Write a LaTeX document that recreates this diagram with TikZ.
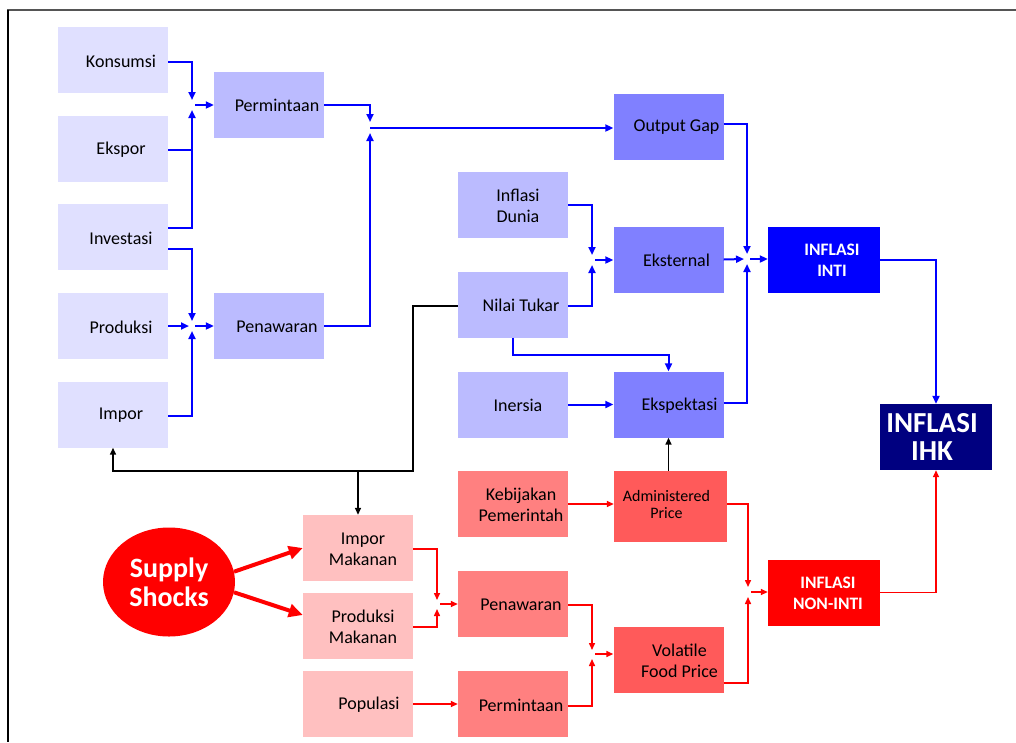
\documentclass[tikz,border=0pt]{standalone}
\usepackage{fontspec}
\setmainfont{Carlito}
\usetikzlibrary{arrows.meta,shapes.geometric,calc}
\definecolor{clav}{HTML}{E0E0FF}
\definecolor{clblue}{HTML}{BBBBFF}
\definecolor{cmblue}{HTML}{8080FF}
\definecolor{cinti}{HTML}{0000FF}
\definecolor{cihk}{HTML}{000080}
\definecolor{cpink}{HTML}{FFC0C0}
\definecolor{csalmon}{HTML}{FF8080}
\definecolor{cdred}{HTML}{FF5A5A}
\definecolor{cred}{HTML}{FF0000}
\definecolor{cframe}{HTML}{555555}
\begin{document}
\begin{tikzpicture}[x=1pt,y=-1pt,
  box/.style={rectangle, inner sep=0pt, minimum width=110pt, minimum height=66pt},
  lab/.style={xshift=8pt, yshift=-1pt, align=center, font=\fontsize{18}{21}\selectfont},
  wlab/.style={lab, text=white, font=\bfseries\fontsize{17.5}{21}\selectfont},
  barr/.style={draw=cinti, line width=2pt, -{Triangle[length=8pt,width=7pt]}},
  bline/.style={draw=cinti, line width=2pt},
  rarr/.style={draw=cred, line width=1.5pt, -{Triangle[length=7pt,width=6pt]}},
  karr/.style={draw=black, line width=1.5pt, -{Triangle[length=7pt,width=6pt]}},
  sarr/.style={draw=cred, line width=4pt, -{Triangle[length=14pt,width=13pt]}}
]
\useasboundingbox (0,0) rectangle (1016,742);
% frame
\draw[cframe, line width=2.2pt] (7,10) -- (1016,10);
\draw[black, line width=2pt] (8,10) -- (8,742);

% left column
\node[box, fill=clav, label={[lab]center:Konsumsi}] (kons) at (113,60) {};
\node[box, fill=clav, label={[lab]center:Ekspor}] (eksp) at (113,149) {};
\node[box, fill=clav, label={[lab]center:Investasi}] (inv) at (113,237) {};
\node[box, fill=clav, label={[lab]center:Produksi}] (prod) at (113,326) {};
\node[box, fill=clav, label={[lab]center:Impor}] (impor) at (113,414.5) {};
% second column
\node[box, fill=clblue, label={[lab]center:Permintaan}] (perm1) at (269,104.5) {};
\node[box, fill=clblue, label={[lab]center:Penawaran}] (pen1) at (269,326) {};
% third column
\node[box, fill=clblue, label={[lab, xshift=-3pt]center:Inflasi\\Dunia}] (dunia) at (513,204.5) {};
\node[box, fill=clblue, label={[lab]center:Nilai Tukar}] (nilai) at (513,304.5) {};
\node[box, fill=clblue, label={[lab, xshift=-3pt]center:Inersia}] (iner) at (513,404.5) {};
\node[box, fill=csalmon, label={[lab]center:Kebijakan\\Pemerintah}] (kebij) at (513,504) {};
\node[box, fill=csalmon, label={[lab]center:Penawaran}] (pen2) at (513,604) {};
\node[box, fill=csalmon, label={[lab]center:Permintaan}] (perm2) at (513,704) {};
% fourth column
\node[box, fill=cmblue, label={[lab]center:Output Gap}] (ogap) at (668.5,126.5) {};
\node[box, fill=cmblue, label={[lab]center:Eksternal}] (ekst) at (668.5,259.5) {};
\node[box, fill=cmblue, label={[lab, xshift=3pt]center:Ekspektasi}] (ekspek) at (668.5,404.5) {};
\node[box, fill=cdred, minimum width=113pt, minimum height=71pt, label={[lab, xshift=-12pt, yshift=3pt, font=\fontsize{16}{17}\selectfont]center:Administered\\Price}] (admin) at (670.5,506.5) {};
\node[box, fill=cdred, label={[lab, xshift=3pt]center:Volatile\\Food Price}] (vfp) at (668.5,660) {};
% fifth column
\node[box, minimum width=112pt, fill=cinti, label={[wlab]center:INFLASI\\INTI}] (inti) at (824,259.5) {};
\node[box, minimum width=112pt, fill=cred, label={[wlab, xshift=-4pt]center:INFLASI\\NON-INTI}] (nonint) at (824,592.5) {};
\node[box, minimum width=112pt, fill=cihk, label={[wlab, xshift=-12pt, yshift=1pt, font=\bfseries\fontsize{29}{28}\selectfont]center:INFLASI\\IHK}] (ihk) at (936,437) {};
% pink column
\node[box, fill=cpink, label={[lab, xshift=-3pt]center:Impor\\Makanan}] (impmak) at (358,548) {};
\node[box, fill=cpink, label={[lab, xshift=-3pt]center:Produksi\\Makanan}] (prodmak) at (358,626) {};
\node[box, fill=cpink, label={[lab, xshift=3pt]center:Populasi}] (popul) at (358,704) {};
% supply shocks
\node[ellipse, fill=cred, minimum width=132pt, minimum height=109pt, inner sep=0pt, text=white, align=center, font=\bfseries\fontsize{28}{29}\selectfont] (ss) at (169,582) {Supply\\Shocks};

% junction coordinates
\coordinate (jAt) at (192,100); \coordinate (jAb) at (192,110); \coordinate (jAr) at (195,105); \coordinate (jA) at (192,105);
\coordinate (jBt) at (192,321); \coordinate (jBb) at (192,331); \coordinate (jBl) at (189,326); \coordinate (jBr) at (195,326);
\coordinate (jCt) at (370,122); \coordinate (jCb) at (370,133); \coordinate (jCr) at (370,128);
\coordinate (jDt) at (592,255); \coordinate (jDb) at (592,265); \coordinate (jDr) at (595,260);
\coordinate (jEt) at (747,254); \coordinate (jEb) at (747,264); \coordinate (jEl) at (744,259); \coordinate (jEr) at (750,259);
\coordinate (jFt) at (437,600); \coordinate (jFb) at (437,609); \coordinate (jFr) at (440,604);
\coordinate (jGt) at (592,650); \coordinate (jGb) at (592,659); \coordinate (jGr) at (595,654);
\coordinate (jHt) at (748,587); \coordinate (jHb) at (748,597); \coordinate (jHr) at (751,592);
\coordinate (kb1) at (413,471); \coordinate (kb2) at (358,471);

% blue connectors: demand
\draw[barr] ([yshift=-2pt]kons.east) -| (jAt);
\draw[bline] ([yshift=-1pt]eksp.east) -- ([yshift=-1pt]eksp.east -| jA);
\draw[barr] ([yshift=9pt]inv.east) -| (jAb);
\draw[barr] (jAr) -- (jAr -| perm1.west);
% supply
\draw[barr] ([yshift=-12pt]inv.east) -| (jBt);
\draw[barr] (prod.east) -- (jBl);
\draw[barr] ([yshift=-1.5pt]impor.east) -| (jBb);
\draw[barr] (jBr) -- (jBr -| pen1.west);
% output gap
\draw[barr] (perm1.east) -| (jCt);
\draw[barr] (pen1.east) -| (jCb);
\draw[barr] (jCr) -- (jCr -| ogap.west);
% eksternal
\draw[barr] ([yshift=-0.5pt]dunia.east) -| (jDt);
\draw[barr] ([yshift=-1.5pt]nilai.east) -| (jDb);
\draw[barr] (jDr) -- (jDr -| ekst.west);
% inti
\draw[barr] ([yshift=2.5pt]ogap.east) -| (jEt);
\draw[barr] (ekst.east) -- (jEl);
\draw[barr] ([yshift=1.5pt]ekspek.east) -| (jEb);
\draw[barr] (jEr) -- (jEr -| inti.west);
\draw[barr] (inti.east) -| (ihk.north);
% ekspektasi inputs
\draw[barr] (iner.east) -- (ekspek.west);
\draw[barr] (nilai.south) -- ++(0,17) -| (ekspek.north);
% black connectors
\draw[karr] ([yshift=-1.5pt]nilai.west) -| (kb1) -| (impor.south);
\draw[karr] (kb2) -- (impmak.north);
\draw[karr] (ekspek.south |- admin.north) -- (ekspek.south);
% red connectors
\draw[rarr] (kebij.east) -- (kebij.east -| admin.west);
\draw[rarr] ([yshift=2.5pt]admin.east) -| (jHt);
\draw[rarr] ([yshift=-23pt]vfp.east) -| (jHb);
\draw[rarr] (jHr) -- (jHr -| nonint.west);
\draw[rarr] (nonint.east) -| (ihk.south);
\draw[rarr] ([yshift=-1pt]impmak.east) -| (jFt);
\draw[rarr] ([yshift=-1pt]prodmak.east) -| (jFb);
\draw[rarr] (jFr) -- (jFr -| pen2.west);
\draw[rarr] (popul.east) -- (perm2.west);
\draw[rarr] ([yshift=-1pt]pen2.east) -| (jGt);
\draw[rarr] ([yshift=-2pt]perm2.east) -| (jGb);
\draw[rarr] (jGr) -- (jGr -| vfp.west);
% supply shocks arrows
\draw[sarr] (ss.9) -- (impmak.west);
\draw[sarr] (ss.-9) -- ([yshift=11pt]prodmak.west);
\end{tikzpicture}
\end{document}
